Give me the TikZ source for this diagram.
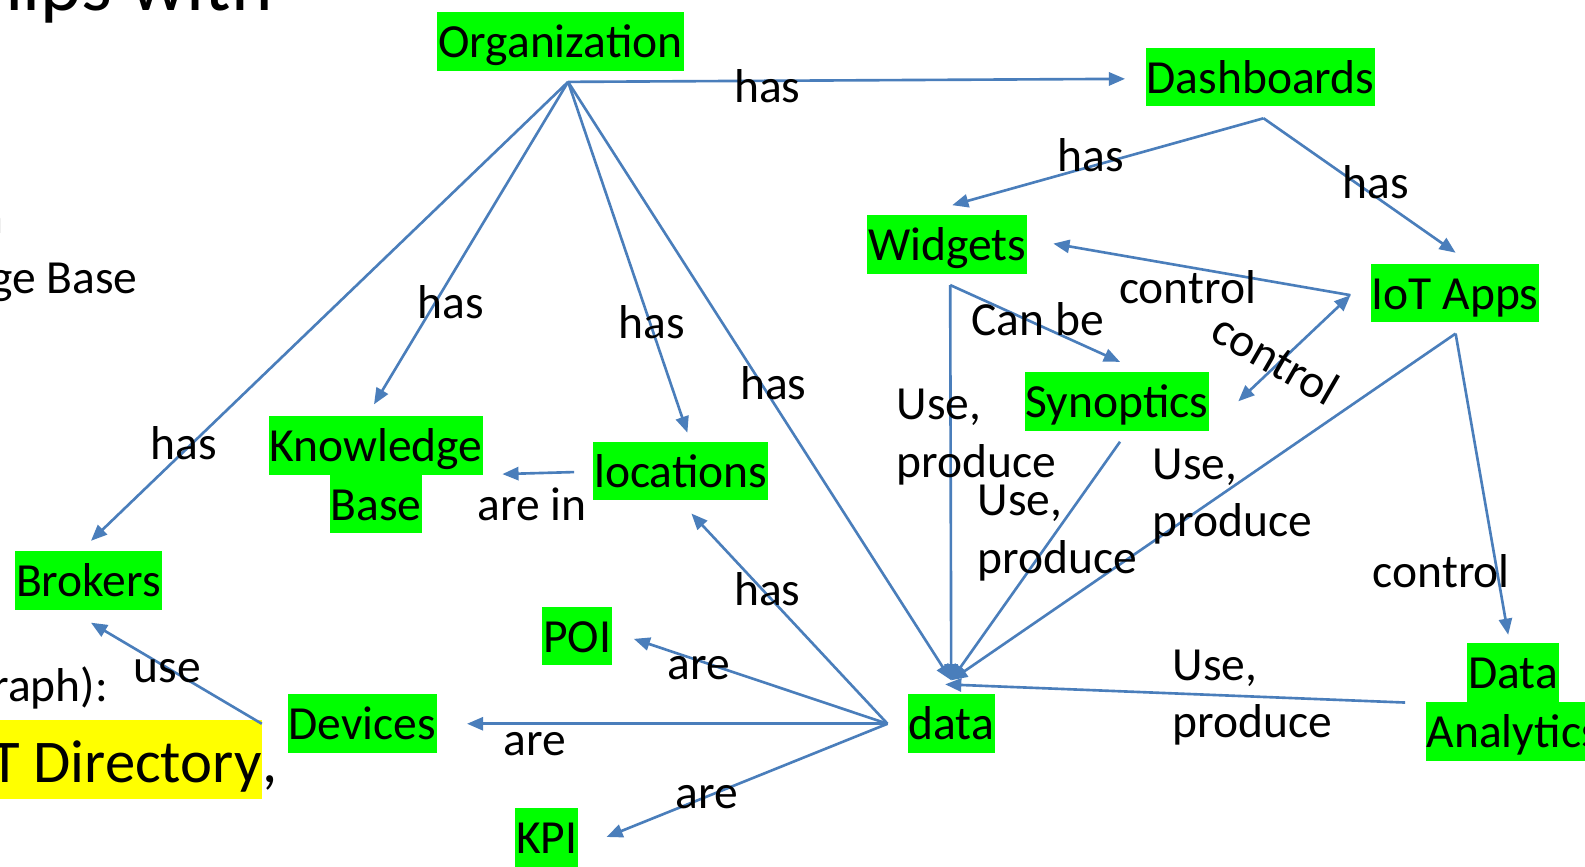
\documentclass[tikz,border=0pt]{standalone}
\usepackage{fontspec}
\setmainfont{Carlito}
\usetikzlibrary{arrows.meta}
\definecolor{hlgreen}{RGB}{0,255,0}
\definecolor{hlyellow}{RGB}{255,255,0}
\definecolor{arrowblue}{RGB}{74,126,187}
\newcommand\gbx[1]{{\setlength\fboxsep{0pt}\colorbox{hlgreen}{\rule[-13pt]{0pt}{58pt}\kern1pt #1\kern1pt}}}
\begin{document}
\begin{tikzpicture}[x=1pt,y=-1pt,
  lbl/.style={font=\fontsize{47}{57}\selectfont, inner sep=0pt, anchor=base west},
  gnode/.style={font=\fontsize{47}{58}\selectfont, fill=hlgreen, inner xsep=1pt, inner ysep=0pt, text height=45pt, text depth=13pt},
  mnode/.style={font=\fontsize{47}{58}\selectfont, inner sep=0pt, align=center},
  conn/.style={draw=arrowblue, line width=2.6pt, -{Triangle[length=16pt,width=13pt]}},
  bconn/.style={draw=arrowblue, line width=2.6pt, {Triangle[length=16pt,width=13pt]}-{Triangle[length=16pt,width=13pt]}},
]
\useasboundingbox (0,0) rectangle (1568,857);
\fill[white] (0,0) rectangle (1568,857);

% background slide text (partly off the page)
\node[font=\fontsize{78}{90}\selectfont, inner sep=0pt, anchor=base east] (title) at (270,10) {Relationships with};
\node[lbl, anchor=base east] (bg1) at (4,231) {Organization};
\node[lbl, anchor=base east] (bg2) at (136,290) {Knowledge Base};
\node[lbl, anchor=base east] (bg3) at (107,694) {graph):};
\node[font=\fontsize{60}{72}\selectfont, fill=hlyellow, inner sep=0pt, text height=62pt, text depth=16pt, anchor=base east] (bg4) at (259,774) {IoT Directory};
\node[font=\fontsize{60}{72}\selectfont, inner sep=0pt, anchor=base west] (bg5) at (bg4.base east) {,};

% nodes
\node[gnode] (org) at (554.5,41) {Organization};
\node[gnode] (dash) at (1247,76) {Dashboards};
\node[gnode] (wid) at (937,242) {Widgets};
\node[gnode] (iot) at (1439.5,290) {IoT Apps};
\node[gnode] (syn) at (1105,397) {Synoptics};
\node[gnode] (loc) at (673.5,466) {locations};
\node[gnode] (brk) at (87.5,574.5) {Brokers};
\node[gnode] (poi) at (571,629) {POI};
\node[gnode] (dev) at (358.5,716) {Devices};
\node[gnode] (data) at (941,716) {data};
\node[gnode] (kpi) at (541,828.5) {KPI};
\node[mnode] (kb) at (372,469.5) {\gbx{Knowledge}\\\gbx{Base}};
\node[mnode] (da) at (1497,694.5) {\gbx{Data}\\\gbx{Analytics}};

% connector end points
\coordinate (orgP) at (562,81);
\coordinate (dashP) at (1250,117);
\coordinate (widP) at (940,282);
\coordinate (iotL) at (1336,292);
\coordinate (iotB) at (1440,330);
\coordinate (synB) at (1108,437);
\coordinate (dataT) at (941,673);
\coordinate (dataL) at (878,716);
\coordinate (devR) at (259,716);
\coordinate (daL) at (1390,695);
\coordinate (locL) at (568,467);
\coordinate (dashT) at (1113,78);
\coordinate (brkT) at (90,535);
\coordinate (kbT) at (370,400);
\coordinate (locT) at (680,428);
\coordinate (widT) at (942,203);
\coordinate (iotT) at (1440,250);
\coordinate (widR) at (1042,241);
\coordinate (synR) at (1225,397);
\coordinate (synT) at (1108,358);
\coordinate (daT) at (1492,628);
\coordinate (locB) at (684,508);
\coordinate (poiR) at (627,632);
\coordinate (devA) at (462,716);
\coordinate (kpiR) at (600,828);
\coordinate (brkB) at (90,616);
\coordinate (kbR) at (497,469);
\coordinate (daA) at (935,677);

% connectors
\draw[conn] (orgP) -- (dashT);
\draw[conn] (orgP) -- (brkT);
\draw[conn] (orgP) -- (kbT);
\draw[conn] (orgP) -- (locT);
\draw[conn] (orgP) -- (dataT);
\draw[conn] (dashP) -- (widT);
\draw[conn] (dashP) -- (iotT);
\draw[conn] (iotL) -- (widR);
\draw[bconn] (iotL) -- (synR);
\draw[conn] (widP) -- (synT);
\draw[conn] (widP) -- (dataT);
\draw[conn] (synB) -- (dataT);
\draw[conn] (iotB) -- (dataT);
\draw[conn] (iotB) -- (daT);
\draw[conn] (daL) -- (daA);
\draw[conn] (dataL) -- (locB);
\draw[conn] (dataL) -- (poiR);
\draw[conn] (dataL) -- (devA);
\draw[conn] (dataL) -- (kpiR);
\draw[conn] (devR) -- (brkB);
\draw[conn] (locL) -- (kbR);

% labels
\node[lbl] (l1) at (726,101) {has};
\node[lbl] (l2) at (1046,170) {has};
\node[lbl] (l3) at (1328,196) {has};
\node[lbl] (l4) at (413,315) {has};
\node[lbl] (l5) at (612,335) {has};
\node[lbl] (l6) at (732,395) {has};
\node[lbl] (l7) at (149,455) {has};
\node[lbl] (l8) at (726,599) {has};
\node[lbl] (l9) at (1107,300) {control};
\node[lbl] (l10) at (961,332) {Can be};
\node[font=\fontsize{47}{57}\selectfont, inner sep=0pt, rotate=-30] (l11) at (1262,355) {control};
\node[lbl, align=left] (l12) at (887,472) {Use,\\produce};
\node[lbl, align=left] (l13) at (967,567) {Use,\\produce};
\node[lbl, align=left] (l14) at (1140,531) {Use,\\produce};
\node[lbl, align=left] (l15) at (1160,730) {Use,\\produce};
\node[lbl] (l16) at (1358,581) {control};
\node[lbl] (l17) at (660,672) {are};
\node[lbl] (l18) at (498,747) {are};
\node[lbl] (l19) at (668,800) {are};
\node[lbl] (l20) at (132,675) {use};
\node[lbl] (l21) at (472,515) {are in};
\end{tikzpicture}
\end{document}
